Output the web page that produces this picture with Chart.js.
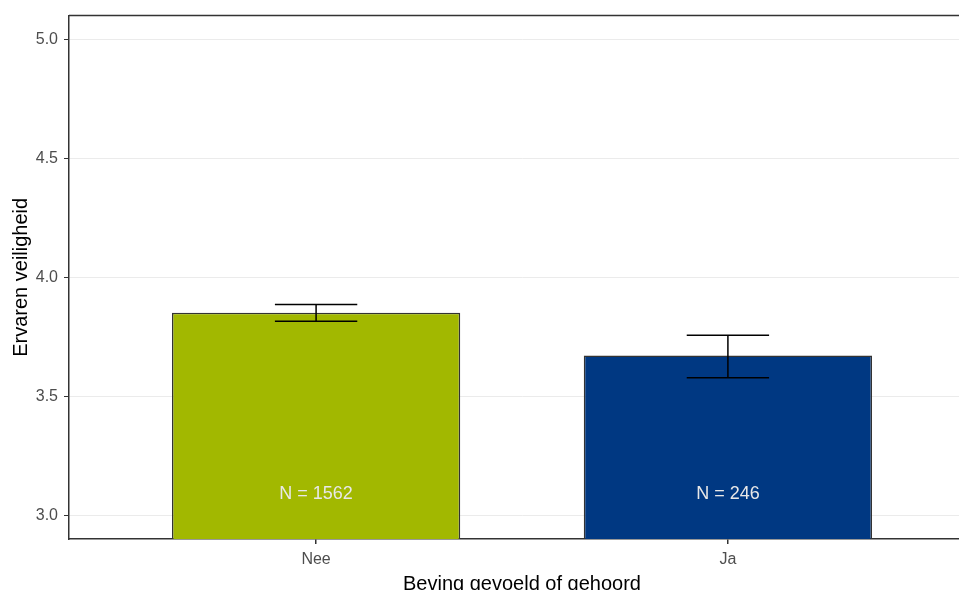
<!DOCTYPE html>
<html>
<head>
<meta charset="utf-8">
<script src="https://cdn.jsdelivr.net/npm/chart.js@4"></script>
<style>
  html, body { margin: 0; padding: 0; background: #fff; overflow: hidden; width: 959px; height: 590px; }
  canvas { display: block; }
</style>
</head>
<body>
<canvas id="chart" width="980" height="600"></canvas>
<script>
// data
const categories = ["Nee", "Ja"];
const positions = [1, 2];
const means = [3.851, 3.671];
const lowerCI = [3.815, 3.578];
const upperCI = [3.886, 3.756];
const counts = [1562, 246];
const barColors = ["#a2b800", "#003882"];
const yTicks = [3.0, 3.5, 4.0, 4.5, 5.0];

const FONT = "'Liberation Sans', Arial, sans-serif";

const errorBars = {
  id: "errorBars",
  afterDatasetsDraw(chart) {
    const ctx = chart.ctx;
    const x = chart.scales.x;
    const y = chart.scales.y;
    ctx.save();
    ctx.strokeStyle = "#000";
    ctx.lineWidth = 1.5;
    for (let i = 0; i < positions.length; i++) {
      const cx = x.getPixelForValue(positions[i]);
      const half = x.getPixelForValue(positions[i] + 0.1) - cx;
      const lo = y.getPixelForValue(lowerCI[i]);
      const hi = y.getPixelForValue(upperCI[i]);
      ctx.beginPath();
      ctx.moveTo(cx, lo);
      ctx.lineTo(cx, hi);
      ctx.moveTo(cx - half, lo);
      ctx.lineTo(cx + half, lo);
      ctx.moveTo(cx - half, hi);
      ctx.lineTo(cx + half, hi);
      ctx.stroke();
    }
    // N labels inside the bars
    ctx.fillStyle = "#e8e8e8";
    ctx.font = "18px " + FONT;
    ctx.textAlign = "center";
    ctx.textBaseline = "middle";
    for (let i = 0; i < positions.length; i++) {
      ctx.fillText("N = " + counts[i], x.getPixelForValue(positions[i]), y.getPixelForValue(3.09));
    }
    ctx.restore();
  },
  afterDraw(chart) {
    // top edge of the panel
    const a = chart.chartArea;
    const ctx = chart.ctx;
    ctx.save();
    ctx.strokeStyle = "#333";
    ctx.lineWidth = 1.5;
    ctx.beginPath();
    ctx.moveTo(a.left, a.top);
    ctx.lineTo(a.right, a.top);
    ctx.stroke();
    ctx.restore();
  }
};

new Chart(document.getElementById("chart"), {
  type: "bar",
  data: {
    datasets: [{
      data: positions.map((p, i) => ({ x: p, y: means[i] })),
      backgroundColor: barColors,
      borderColor: "#333",
      borderWidth: 1.5,
      barPercentage: 0.7,
      categoryPercentage: 1
    }]
  },
  options: {
    responsive: false,
    devicePixelRatio: 1,
    animation: false,
    layout: { padding: { top: 15, right: 5, left: 0, bottom: 0 } },
    plugins: { legend: { display: false }, tooltip: { enabled: false } },
    scales: {
      x: {
        type: "linear",
        min: 0.4,
        max: 2.6,
        offset: false,
        afterBuildTicks(scale) { scale.ticks = positions.map(v => ({ value: v })); },
        afterFit(scale) { scale.height = 61; },
        grid: { drawOnChartArea: false, offset: false, tickLength: 5, tickColor: "#333", lineWidth: 1.5 },
        border: { color: "#333", width: 1.5 },
        ticks: {
          autoSkip: false,
          padding: 6,
          color: "#4d4d4d",
          font: { family: FONT, size: 16 },
          callback: (v) => categories[positions.indexOf(v)]
        },
        title: {
          display: true,
          text: "Beving gevoeld of gehoord",
          color: "#000",
          font: { family: FONT, size: 20 },
          padding: { top: 0, bottom: 4 }
        }
      },
      y: {
        min: 2.9,
        max: 5.1,
        afterBuildTicks(scale) { scale.ticks = yTicks.map(v => ({ value: v })); },
        afterFit(scale) { scale.width = 69; },
        grid: { color: "#ebebeb", lineWidth: 1, tickLength: 5, tickColor: "#333" },
        border: { color: "#333", width: 1.5 },
        ticks: {
          padding: 6,
          color: "#4d4d4d",
          font: { family: FONT, size: 16 },
          callback: (v) => Number(v).toFixed(1)
        },
        title: {
          display: true,
          text: "Ervaren veiligheid",
          color: "#000",
          font: { family: FONT, size: 20 },
          padding: { top: 9, bottom: 0 }
        }
      }
    }
  },
  plugins: [errorBars]
});
</script>
</body>
</html>
